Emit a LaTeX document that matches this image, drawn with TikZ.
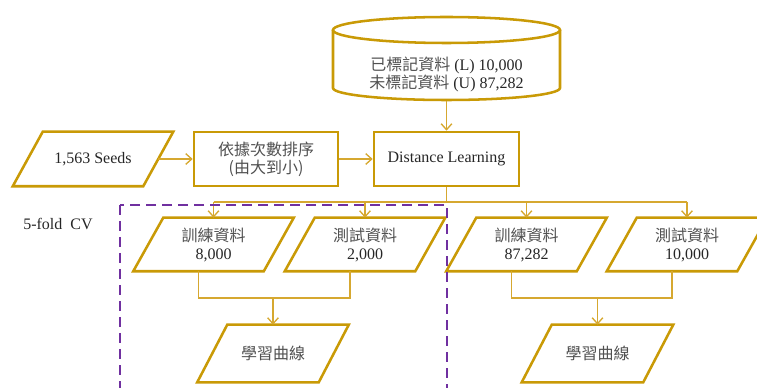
\documentclass[tikz,border=0pt]{standalone}
\usepackage{fontspec}
\setmainfont{Liberation Serif}
\newfontfamily\cjkfam{Noto Sans CJK TC}
\usetikzlibrary{arrows.meta,calc}
\definecolor{gold}{HTML}{C99A06}
\definecolor{goldline}{HTML}{D6A830}
\definecolor{purp}{HTML}{7030A0}
\definecolor{txt}{HTML}{262626}
\definecolor{cjktxt}{HTML}{505050}
\newcommand\cjkt[1]{{\color{cjktxt}\cjkfam #1}}
\begin{document}
\begin{tikzpicture}[x=0.75pt,y=-0.75pt,
  lbl/.style={font=\fontsize{12}{13.5}\selectfont, text=txt, align=center, inner sep=0pt},
  boxnode/.style={lbl, draw=gold, line width=1.9pt, minimum height=40.5pt},
  para/.style={lbl, minimum width=#1},
  border/.style={draw=gold, line width=1.9pt, line join=miter},
  conn/.style={draw=goldline, line width=1pt},
  arr/.style={conn, -{Straight Barb[length=4.5pt,width=8pt,line width=1pt]}},
  cvbox/.style={draw=purp, line width=2pt, dash pattern=on 7.5pt off 4.5pt}
]
\useasboundingbox (0,0) rectangle (757,388);
\clip (0,0) rectangle (757,388);

% database cylinder
\draw[border] (446.5,30) ellipse [x radius=85.125pt, y radius=9.75pt];
\draw[border] (333,30) -- (333,88) arc[start angle=180,end angle=360,x radius=85.125pt,y radius=9pt] -- (560,30);
\node[lbl] (db) at (446.5,74) {\cjkt{已標記資料} (L) 10,000\\\cjkt{未標記資料} (U) 87,282};
\coordinate (dbb) at (446.5,101);

% row 2
\node[para=97.5pt, minimum height=40.5pt] (seeds) at (93,159) {1,563 Seeds};
\node[boxnode, minimum width=108pt] (yj) at (266,159) {\cjkt{依據次數排序}\\\cjkt{(由大到小)}};
\node[boxnode, minimum width=108.75pt] (dl) at (446.5,159) {Distance Learning};

% row 3
\node[para=97.5pt, minimum height=39.75pt] (tr1) at (213.5,244.5) {\cjkt{訓練資料}\\8,000};
\node[para=97.5pt, minimum height=39.75pt] (te1) at (365,244.5) {\cjkt{測試資料}\\2,000};
\node[para=97.5pt, minimum height=39.75pt] (tr2) at (526.5,244.5) {\cjkt{訓練資料}\\87,282};
\node[para=97.5pt, minimum height=39.75pt] (te2) at (687,244.5) {\cjkt{測試資料}\\10,000};

% row 4
\node[para=90.75pt, minimum height=42.75pt] (lc1) at (273,353.5) {\cjkt{學習曲線}};
\node[para=90.75pt, minimum height=42.75pt] (lc2) at (597.5,353.5) {\cjkt{學習曲線}};

\foreach \n in {seeds,tr1,te1,tr2,te2,lc1,lc2}
  \draw[border] ([xshift=11.25pt]\n.north west) -- ([xshift=11.25pt]\n.north east)
    -- ([xshift=-11.25pt]\n.south east) -- ([xshift=-11.25pt]\n.south west) -- cycle;

\node[lbl, anchor=west] (cv) at (23,224) {5-fold\hspace{6pt}CV};

% connectors
\draw[arr] (dbb) -- (dl.north);
\draw[arr] (seeds.east) -- (yj.west);
\draw[arr] (yj.east) -- (dl.west);
\coordinate (split) at (446.5,202);
\draw[conn] (dl.south) -- (split);
\draw[conn] (tr1.north |- split) -- (te2.north |- split);
\foreach \n in {tr1,te1,tr2,te2}
  \draw[arr] (\n.north |- split) -- (\n.north);

\coordinate (m1) at (273,298);
\coordinate (m2) at (597.5,298);
\draw[conn] ([xshift=-11.25pt]tr1.south) |- (m1) -| ([xshift=-11.25pt]te1.south);
\draw[conn] ([xshift=-11.25pt]tr2.south) |- (m2) -| ([xshift=-11.25pt]te2.south);
\draw[arr] (m1) -- (lc1.north);
\draw[arr] (m2) -- (lc2.north);

% 5-fold CV frame
\draw[cvbox] (120,205) rectangle (447,400);
\end{tikzpicture}
\end{document}
